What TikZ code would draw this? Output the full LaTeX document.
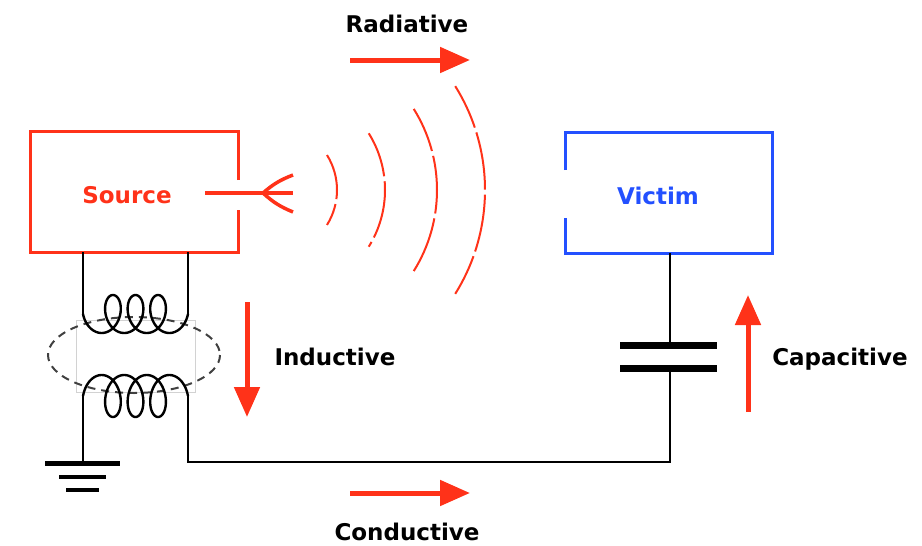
\documentclass[tikz,border=0pt]{standalone}
\usepackage{fontspec}
\setsansfont{DejaVu Sans}
\usepackage{tikz}
\usetikzlibrary{arrows.meta}
\definecolor{emired}{HTML}{FF3219}
\definecolor{emiblue}{HTML}{2350FF}

\begin{document}
\begin{tikzpicture}[x=1pt,y=-1pt,
	lbl/.style={font=\sffamily\bfseries\fontsize{23}{27}\selectfont},
	coupling/.style={emired,line width=5pt,-{Triangle[length=30pt,width=25pt]}},
	wire/.style={black,line width=2pt},
	wave/.style={emired,line width=2pt,dash pattern=on 58pt off 5pt,dash phase=12pt}]
	\useasboundingbox (0,0) rectangle (922,546);

	% boxes, with the openings facing each other
	\draw[emired,line width=3pt] (238,180) -- (238,131) -- (30,131) -- (30,252) -- (238,252) -- (238,210);
	\draw[emiblue,line width=3pt] (565,170) -- (565,132) -- (772,132) -- (772,253) -- (565,253) -- (565,218);

	\node[lbl,emired] (source) at (127,195) {Source};
	\node[lbl,emiblue] (victim) at (658,196) {Victim};
	\node[lbl] (radiative) at (407,24) {Radiative};
	\node[lbl] (inductive) at (335,357) {Inductive};
	\node[lbl] (capacitive) at (840,359) {Capacitive};
	\node[lbl] (conductive) at (407,532) {Conductive};

	% antenna
	\coordinate (ant in) at (205,193);
	\coordinate (ant fork) at (263,193);
	\coordinate (ant end) at (293,193);
	\coordinate (ant up) at (293,175);
	\coordinate (ant down) at (293,212);
	\draw[emired,line width=3.5pt]
		(ant in) edge (ant end)
		(ant fork) edge[bend left=10] (ant up)
		(ant fork) edge[bend right=10] (ant down)
	;

	% waves
	\foreach \cx/\r in {271/66,278/107,284/153,289/196}
		\draw[wave] (\cx,190) ++(-32:\r) arc[start angle=-32,end angle=32,radius=\r];

	% transformer
	\draw[gray!35,line width=0.5pt] (76,320) rectangle (195,392);
	\draw[black!75,line width=2pt,dash pattern=on 8pt off 6pt] (134,355) ellipse [x radius=86, y radius=38];
	\draw[wire,line width=2.4pt] plot[domain=0.5*pi:7.5*pi,samples=240,variable=\t]
		({135.5+3.59*(\t-4*pi)-13*sin(\t r)},{314-19*cos(\t r)});
	\draw[wire,line width=2.4pt] plot[domain=0.5*pi:7.5*pi,samples=240,variable=\t]
		({135.5+3.59*(\t-4*pi)-13*sin(\t r)},{396+21*cos(\t r)});

	\coordinate (src l) at (83,252);
	\coordinate (src r) at (188,252);
	\coordinate (up l) at (83,314);
	\coordinate (up r) at (188,314);
	\coordinate (lo l) at (83,396);
	\coordinate (lo r) at (188,396);
	\coordinate (gnd) at (83,463);
	\coordinate (corner l) at (188,462);
	\coordinate (corner r) at (670,462);
	\coordinate (vic) at (670,253);
	\coordinate (cap top) at (670,345);
	\coordinate (cap bot) at (670,368);

	\draw[wire]
		(src l) edge (up l)
		(src r) edge (up r)
		(lo l) edge (gnd)
		(vic) edge (cap top)
	;
	\draw[wire] (lo r) -- (corner l) -- (corner r) -- (cap bot);

	% capacitor
	\draw[line width=7pt] (620,345) -- (717,345) (620,368) -- (717,368);

	% ground
	\draw[line width=5pt] (45,463) -- (120,463);
	\draw[line width=4pt] (59,477) -- (106,477) (66,490) -- (99,490);

	% coupling paths
	\coordinate (rad a) at (350,60);
	\coordinate (rad b) at (470,60);
	\coordinate (ind a) at (247,302);
	\coordinate (ind b) at (247,417);
	\coordinate (cap a) at (748,412);
	\coordinate (cap b) at (748,295);
	\coordinate (con a) at (350,493);
	\coordinate (con b) at (470,493);
	\draw
		(rad a) edge[coupling] (rad b)
		(ind a) edge[coupling] (ind b)
		(cap a) edge[coupling] (cap b)
		(con a) edge[coupling] (con b)
	;
\end{tikzpicture}
\end{document}
